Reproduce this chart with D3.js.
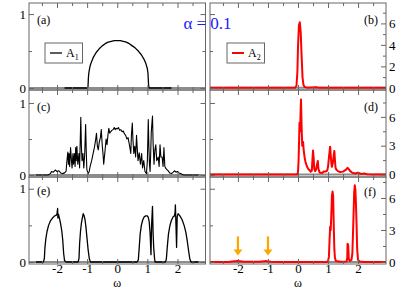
<!DOCTYPE html>
<html>
<head>
<meta charset="utf-8">
<script src="https://cdn.jsdelivr.net/npm/d3@7"></script>
<style>
  body { margin: 0; background: #fff; }
  svg { display: block; font-family: "Liberation Serif", "Times New Roman", serif; }
</style>
</head>
<body>
<div id="chart"></div>
<script>
// spectral functions A1 (left) and A2 (right), alpha = 0.1, rows a/b, c/d, e/f
const specA = [[-1.75,0],[-1.0,0],[-0.97,0.02],[-0.96,0.12],[-0.95,0.18],[-0.93,0.24],[-0.9,0.3],[-0.85,0.36],[-0.8,0.41],[-0.7,0.48],[-0.6,0.53],[-0.5,0.57],[-0.4,0.6],[-0.3,0.62],[-0.2,0.63],[-0.1,0.64],[0,0.64],[0.1,0.64],[0.2,0.63],[0.3,0.62],[0.4,0.6],[0.5,0.57],[0.6,0.54],[0.7,0.5],[0.8,0.45],[0.9,0.38],[0.95,0.33],[1.0,0.26],[1.02,0.2],[1.03,0.12],[1.04,0.04],[1.06,0],[1.8,0]]

const specB = [[-2.95,0],[-0.1,0],[-0.05,0.2],[-0.02,1.5],[0.0,3.8],[0.03,5.8],[0.06,6.1],[0.09,5.2],[0.12,3.0],[0.15,1.0],[0.18,0.3],[0.22,0.08],[0.3,0.02],[0.6,0.05],[0.7,0],[2.95,0]]

const specC = [[-2.7,0],[-2.3,0],[-2.22,0.02],[-2.18,0.05],[-2.12,0.04],[-2.06,0.07],[-2.0,0.05],[-1.94,0.06],[-1.88,0.03],[-1.82,0.02],[-1.75,0.03],[-1.7,0.05],[-1.67,0.2],[-1.64,0.32],[-1.62,0.15],[-1.6,0.3],[-1.58,0.12],[-1.55,0.38],[-1.52,0.2],[-1.5,0.1],[-1.47,0.3],[-1.45,0.15],[-1.42,0.3],[-1.4,0.12],[-1.38,0.38],[-1.36,0.2],[-1.34,0.4],[-1.31,0.15],[-1.27,0.3],[-1.25,0.1],[-1.23,0.45],[-1.21,0.8],[-1.19,0.4],[-1.17,0.2],[-1.14,0.3],[-1.11,0.1],[-1.08,0.3],[-1.05,0.7],[-1.03,0.35],[-1.01,0.08],[-0.97,0.02],[-0.93,0.05],[-0.9,0.12],[-0.85,0.2],[-0.8,0.3],[-0.76,0.38],[-0.72,0.48],[-0.69,0.58],[-0.66,0.4],[-0.63,0.35],[-0.6,0.45],[-0.56,0.52],[-0.53,0.63],[-0.5,0.42],[-0.47,0.28],[-0.45,0.15],[-0.41,0.32],[-0.37,0.5],[-0.34,0.42],[-0.31,0.55],[-0.28,0.65],[-0.25,0.58],[-0.22,0.6],[-0.18,0.62],[-0.14,0.63],[-0.1,0.66],[-0.07,0.63],[-0.04,0.65],[0.0,0.64],[0.04,0.66],[0.08,0.62],[0.12,0.63],[0.16,0.6],[0.2,0.61],[0.24,0.57],[0.28,0.55],[0.32,0.5],[0.36,0.52],[0.39,0.45],[0.42,0.38],[0.45,0.3],[0.47,0.55],[0.5,0.72],[0.52,0.5],[0.55,0.3],[0.58,0.4],[0.61,0.25],[0.64,0.55],[0.66,0.4],[0.69,0.2],[0.73,0.31],[0.77,0.15],[0.81,0.3],[0.84,0.1],[0.88,0.2],[0.92,0.05],[0.97,0.02],[1.0,0.2],[1.03,0.77],[1.05,0.4],[1.07,0.15],[1.09,0.05],[1.11,0.3],[1.13,0.6],[1.17,0.82],[1.19,0.45],[1.22,0.15],[1.25,0.35],[1.28,0.42],[1.31,0.2],[1.36,0.25],[1.39,0.12],[1.42,0.42],[1.45,0.25],[1.49,0.25],[1.52,0.12],[1.55,0.38],[1.58,0.12],[1.6,0.1],[1.64,0.08],[1.69,0.06],[1.74,0.03],[1.8,0.02],[1.86,0.04],[1.9,0.06],[1.95,0.04],[2.0,0.05],[2.05,0.03],[2.1,0.02],[2.2,0],[2.7,0]]

const specD = [[-2.95,0],[-0.03,0],[0.0,0.2],[0.02,1.5],[0.04,4.0],[0.05,5.4],[0.07,4.5],[0.09,7.0],[0.1,7.8],[0.12,5.0],[0.14,3.0],[0.17,3.4],[0.19,2.5],[0.22,1.8],[0.25,1.3],[0.28,1.0],[0.32,0.7],[0.36,0.5],[0.39,0.45],[0.42,0.3],[0.46,0.4],[0.48,1.5],[0.5,2.5],[0.52,1.8],[0.54,0.6],[0.57,0.35],[0.6,0.5],[0.63,1.0],[0.66,1.4],[0.68,0.6],[0.72,0.2],[0.8,0.15],[0.86,0.3],[0.92,0.3],[0.97,0.4],[1.0,0.8],[1.03,1.8],[1.07,2.9],[1.09,2.0],[1.11,1.2],[1.13,0.8],[1.16,1.2],[1.19,2.0],[1.21,2.45],[1.23,1.5],[1.25,0.7],[1.28,0.5],[1.33,0.35],[1.4,0.25],[1.5,0.3],[1.55,0.4],[1.6,0.5],[1.65,0.7],[1.69,0.55],[1.74,0.35],[1.8,0.2],[1.9,0.1],[2.0,0.2],[2.1,0.05],[2.2,0.1],[2.3,0.02],[2.5,0],[2.95,0]]

const specE = [[-2.7,0],[-2.45,0],[-2.42,0.05],[-2.4,0.2],[-2.37,0.32],[-2.33,0.42],[-2.28,0.5],[-2.22,0.56],[-2.15,0.6],[-2.08,0.63],[-2.02,0.64],[-2.0,0.66],[-1.98,0.73],[-1.97,0.6],[-1.95,0.65],[-1.92,0.6],[-1.88,0.52],[-1.84,0.42],[-1.81,0.3],[-1.78,0.12],[-1.75,0.02],[-1.7,0],[-1.3,0],[-1.27,0.05],[-1.25,0.25],[-1.22,0.42],[-1.19,0.53],[-1.16,0.6],[-1.13,0.66],[-1.1,0.63],[-1.07,0.58],[-1.04,0.48],[-1.01,0.35],[-0.97,0.18],[-0.93,0.05],[-0.89,0],[0.66,0],[0.7,0.03],[0.73,0.2],[0.76,0.38],[0.8,0.5],[0.85,0.58],[0.9,0.62],[0.95,0.63],[1.0,0.63],[1.03,0.61],[1.06,0.55],[1.09,0.4],[1.12,0.1],[1.14,0.5],[1.17,0.76],[1.19,0.4],[1.21,0.2],[1.24,0.04],[1.26,0],[1.6,0],[1.63,0.04],[1.66,0.2],[1.7,0.38],[1.75,0.5],[1.8,0.57],[1.86,0.62],[1.9,0.63],[1.92,0.68],[1.93,0.78],[1.95,0.5],[1.97,0.2],[1.99,0.62],[2.02,0.66],[2.08,0.63],[2.15,0.58],[2.22,0.5],[2.28,0.4],[2.32,0.3],[2.37,0.15],[2.41,0.04],[2.45,0],[2.7,0]]

const specF = [[-2.95,0],[-2.3,0],[-2.2,0.05],[-2.0,0.08],[-1.8,0.03],[-1.3,0.02],[-1.1,0.08],[-0.9,0.03],[-0.6,0],[0.95,0],[1.0,0.05],[1.03,0.5],[1.05,2.0],[1.07,3.3],[1.09,3.0],[1.11,4.5],[1.13,6.2],[1.15,6.6],[1.17,6.2],[1.19,3.5],[1.21,1.2],[1.23,0.4],[1.26,0.1],[1.4,0.03],[1.62,0.05],[1.64,0.4],[1.65,1.7],[1.67,1.6],[1.69,0.3],[1.72,0.1],[1.78,0.2],[1.81,0.8],[1.84,3.5],[1.87,6.5],[1.89,7.2],[1.91,6.8],[1.93,5.4],[1.95,3.5],[1.97,1.2],[2.0,0.2],[2.05,0.05],[2.2,0],[2.95,0]]

const xMajor = [-2, -1, 0, 1, 2]
const xMinor = [-2.5, -1.5, -0.5, 0.5, 1.5, 2.5]
const a1Major = [0, 1]
const a1Minor = [0.5]
const a2MajorTop = [0, 2, 4, 6]
const a2MinorTop = [1, 3, 5, 7]
const a2Major = [0, 3, 6]
const a2Minor = [1.5, 4.5, 7.5]
const panelTags = ['(a)', '(b)', '(c)', '(d)', '(e)', '(f)']
const legendNames = ['A', 'A']
const legendSubs = ['1', '2']
const arrowOmega = [-2, -1]
const arrowSpan = [2.4, 0.6]

const W = 415, H = 294
const colX = [[29, 205.5], [210, 386]]
const rowY = [[3, 90], [90, 177], [177, 264]]
const frameColor = '#666'

const leftDomains = [[-0.027, 1.15], [-0.027, 1.18], [-0.027, 1.16]]
const rightDomains = [[-0.2, 7.9], [-0.26, 8.8], [-0.19, 7.97]]

const svg = d3.select('#chart').append('svg')
  .attr('width', W)
  .attr('height', H)

const panels = [
  {tag: panelTags[0], col: 0, row: 0, data: specA, color: '#000', width: 1.3, yd: leftDomains[0], major: a1Major, minor: a1Minor},
  {tag: panelTags[1], col: 1, row: 0, data: specB, color: '#ff0000', width: 2, yd: rightDomains[0], major: a2MajorTop, minor: a2MinorTop},
  {tag: panelTags[2], col: 0, row: 1, data: specC, color: '#000', width: 1.1, yd: leftDomains[1], major: a1Major, minor: a1Minor},
  {tag: panelTags[3], col: 1, row: 1, data: specD, color: '#ff0000', width: 2, yd: rightDomains[1], major: a2Major, minor: a2Minor},
  {tag: panelTags[4], col: 0, row: 2, data: specE, color: '#000', width: 1.3, yd: leftDomains[2], major: a1Major, minor: a1Minor},
  {tag: panelTags[5], col: 1, row: 2, data: specF, color: '#ff0000', width: 2, yd: rightDomains[2], major: a2Major, minor: a2Minor}
]

const tagBaseline = [21, 21, 18]

function tickAxis(g, axisFn, scale, values, size, labels, pad) {
  const ax = axisFn(scale).tickValues(values).tickSizeInner(-size).tickSizeOuter(0)
    .tickPadding(labels ? (pad === undefined ? 3 : pad) : 0)
    .tickFormat(labels ? (d => String(d)) : '')
  g.call(ax)
  g.select('.domain').remove()
  g.selectAll('.tick line').attr('stroke', frameColor)
  g.selectAll('.tick text')
    .attr('fill', '#000')
    .style('font-family', '"Liberation Serif", "Times New Roman", serif')
    .style('font-size', '13px')
}

panels.forEach((p, i) => {
  const x = d3.scaleLinear().domain([-2.93, 2.93]).range(colX[p.col])
  const y = d3.scaleLinear().domain(p.yd).range([rowY[p.row][1], rowY[p.row][0]])
  const yLeft = d3.scaleLinear().domain(leftDomains[p.row]).range([rowY[p.row][1], rowY[p.row][0]])
  const [x0, x1] = colX[p.col]
  const [y0, y1] = rowY[p.row]
  const g = svg.append('g')

  svg.append('clipPath').attr('id', 'clip' + i)
    .append('rect').attr('x', x0).attr('y', y0).attr('width', x1 - x0).attr('height', y1 - y0)

  const plot = g.append('g').attr('clip-path', 'url(#clip' + i + ')')

  // grey zero line under the curve
  plot.append('line')
    .attr('x1', x0).attr('x2', x1)
    .attr('y1', y(0)).attr('y2', y(0))
    .attr('stroke', '#8c8c8c').attr('stroke-width', 2)

  const line = d3.line().x(d => x(d[0])).y(d => y(d[1]))
  plot.append('path')
    .datum(p.data)
    .attr('d', line)
    .attr('fill', 'none')
    .attr('stroke', p.color)
    .attr('stroke-width', p.width)
    .attr('stroke-linejoin', 'round')

  // ticks on all four sides
  const bottomLabels = p.row === 2
  tickAxis(g.append('g').attr('transform', `translate(0,${y1})`), d3.axisBottom, x, xMajor, 5, bottomLabels, 0)
  tickAxis(g.append('g').attr('transform', `translate(0,${y1})`), d3.axisBottom, x, xMinor, 3, false)
  tickAxis(g.append('g').attr('transform', `translate(0,${y0})`), d3.axisTop, x, xMajor, 5, false)
  tickAxis(g.append('g').attr('transform', `translate(0,${y0})`), d3.axisTop, x, xMinor, 3, false)

  if (p.col === 0) {
    tickAxis(g.append('g').attr('transform', `translate(${x0},0)`), d3.axisLeft, y, p.major, 5, true)
    tickAxis(g.append('g').attr('transform', `translate(${x0},0)`), d3.axisLeft, y, p.minor, 3, false)
    tickAxis(g.append('g').attr('transform', `translate(${x1},0)`), d3.axisRight, y, p.major, 5, false)
    tickAxis(g.append('g').attr('transform', `translate(${x1},0)`), d3.axisRight, y, p.minor, 3, false)
  } else {
    tickAxis(g.append('g').attr('transform', `translate(${x0},0)`), d3.axisLeft, yLeft, a1Major, 5, false)
    tickAxis(g.append('g').attr('transform', `translate(${x0},0)`), d3.axisLeft, yLeft, a1Minor, 3, false)
    tickAxis(g.append('g').attr('transform', `translate(${x1},0)`), d3.axisRight, y, p.major, 5, true)
    tickAxis(g.append('g').attr('transform', `translate(${x1},0)`), d3.axisRight, y, p.minor, 3, false)
  }

  g.append('rect')
    .attr('x', x0).attr('y', y0)
    .attr('width', x1 - x0).attr('height', y1 - y0)
    .attr('fill', 'none').attr('stroke', frameColor).attr('stroke-width', 1)

  g.append('text')
    .attr('x', p.col === 0 ? x0 + 8 : x1 - 22)
    .attr('y', y0 + tagBaseline[p.row] + (p.col === 1 && p.row === 2 ? 1 : 0))
    .attr('font-size', 12)
    .text(p.tag)

  if (bottomLabels) {
    g.append('text')
      .attr('x', x(0)).attr('y', 287)
      .attr('text-anchor', 'middle')
      .attr('font-size', 12)
      .text('ω')
  }

  // legend in top row
  if (p.row === 0) {
    const lx = p.col === 0 ? x0 + 16 : x0 + 17
    const ly = 43
    const lg = g.append('g')
    lg.append('rect')
      .attr('x', lx).attr('y', ly).attr('width', 37.5).attr('height', 20)
      .attr('fill', '#fff').attr('stroke', frameColor).attr('stroke-width', 1)
    lg.append('line')
      .attr('x1', lx + 5).attr('x2', lx + 17)
      .attr('y1', ly + 10).attr('y2', ly + 10)
      .attr('stroke', p.color).attr('stroke-width', p.col === 0 ? 1.3 : 2)
    const t = lg.append('text')
      .attr('x', lx + 21).attr('y', ly + 14)
      .attr('font-size', 12)
    t.append('tspan').text(legendNames[p.col])
    t.append('tspan').attr('font-size', 8).attr('dy', 3).text(legendSubs[p.col])
  }

  // orange arrows in (f)
  if (p.col === 1 && p.row === 2) {
    arrowOmega.forEach(w => {
      const ax = x(w)
      const yt = y(arrowSpan[0])
      const yh = y(arrowSpan[1])
      g.append('line')
        .attr('x1', ax).attr('x2', ax)
        .attr('y1', yt).attr('y2', yh - 5)
        .attr('stroke', '#ffa500').attr('stroke-width', 2.2)
      g.append('path')
        .attr('d', `M${ax - 4.5},${yh - 6}L${ax + 4.5},${yh - 6}L${ax},${yh}Z`)
        .attr('fill', '#ffa500')
    })
  }
})

svg.append('text')
  .attr('x', 207.5).attr('y', 29)
  .attr('text-anchor', 'middle')
  .attr('font-size', 17)
  .attr('fill', '#1a1aff')
  .text('α = 0.1')
</script>
</body>
</html>
